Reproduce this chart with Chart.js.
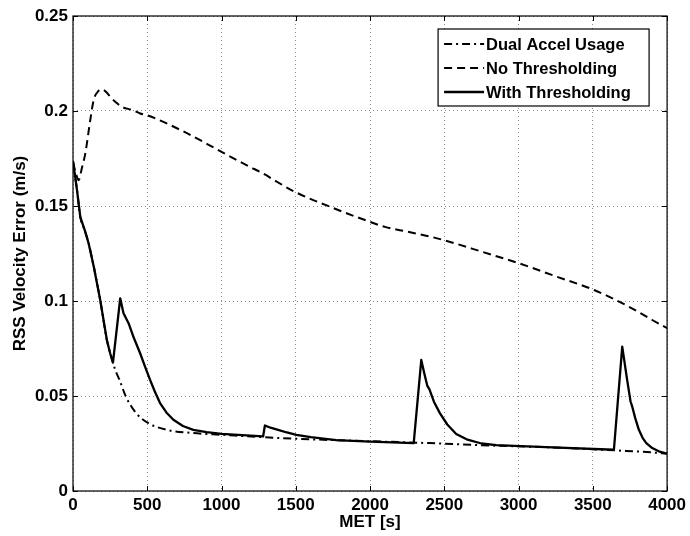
<!DOCTYPE html>
<html>
<head>
<meta charset="utf-8">
<script src="https://cdn.jsdelivr.net/npm/chart.js@4/dist/chart.umd.min.js"></script>
<style>
  html, body { margin: 0; padding: 0; background: #fff; }
  #wrap { width: 690px; height: 536px; }
</style>
</head>
<body>
<div id="wrap"><canvas id="chart" width="690" height="536"></canvas></div>
<script>
// values (MET in seconds, RSS velocity error in m/s)
var dualX = [0, 10, 27, 49, 80, 105, 140, 183, 228, 269, 284, 313, 356, 425, 508, 631, 810, 1000, 1381, 1750, 2000, 2399, 2713, 3200, 3675, 3900, 4000];
var dualY = [0.1736, 0.168, 0.1584, 0.1443, 0.137, 0.1304, 0.118, 0.1006, 0.0795, 0.0676, 0.0638, 0.0585, 0.0497, 0.041, 0.0357, 0.0322, 0.0305, 0.0296, 0.0279, 0.0268, 0.0262, 0.0252, 0.0242, 0.0230, 0.0213, 0.0203, 0.0196];

var noThrX = [0, 20, 38, 60, 83, 116, 139, 172, 195, 230, 251, 290, 329, 400, 452, 497, 750, 1000, 1191, 1258, 1493, 1750, 1952, 2100, 2250, 2400, 2534, 2750, 3004, 3250, 3508, 3743, 3900, 4000];
var noThrY = [0.173, 0.167, 0.1636, 0.170, 0.1777, 0.1951, 0.2057, 0.2106, 0.2113, 0.2095, 0.2074, 0.2045, 0.2022, 0.2005, 0.1987, 0.1978, 0.189, 0.1785, 0.1706, 0.168, 0.1575, 0.149, 0.143, 0.139, 0.1365, 0.134, 0.1312, 0.126, 0.1198, 0.113, 0.1058, 0.097, 0.090, 0.0857];

var withThrX = [0, 10, 27, 49, 80, 105, 140, 183, 228, 250, 269, 318, 340, 374, 410, 452, 485, 519, 550, 586, 630, 676, 740, 810, 900, 1000, 1280, 1292, 1330, 1381, 1440, 1504, 1600, 1773, 2000, 2294, 2345, 2365, 2385, 2400, 2430, 2470, 2520, 2580, 2650, 2750, 2850, 3183, 3642, 3698, 3731, 3754, 3765, 3785, 3810, 3835, 3860, 3900, 3950, 4000];
var withThrY = [0.1736, 0.168, 0.1584, 0.1443, 0.137, 0.1304, 0.118, 0.1006, 0.0795, 0.0725, 0.0676, 0.1014, 0.0936, 0.0883, 0.0805, 0.0725, 0.0655, 0.0585, 0.0525, 0.0463, 0.0412, 0.0375, 0.0342, 0.0322, 0.031, 0.0301, 0.0287, 0.0345, 0.0333, 0.0322, 0.0308, 0.0296, 0.0283, 0.0268, 0.026, 0.0252, 0.069, 0.062, 0.0555, 0.0535, 0.047, 0.041, 0.035, 0.030, 0.0272, 0.025, 0.0241, 0.0231, 0.0217, 0.076, 0.0585, 0.0471, 0.0445, 0.0385, 0.0322, 0.028, 0.0252, 0.0226, 0.0207, 0.0196];

var xTicks = [0, 500, 1000, 1500, 2000, 2500, 3000, 3500, 4000];
var yTicks = [0, 0.05, 0.1, 0.15, 0.2, 0.25];

var FONT = '"Liberation Sans", Arial, Helvetica, sans-serif';

function toPoints(xs, ys) {
    return xs.map(function(x, i) { return { x: x, y: ys[i] }; });
}

var series = [
    { label: 'Dual Accel Usage', data: toPoints(dualX, dualY), dash: [8, 4, 2, 4], width: 2, smooth: true },
    { label: 'No Thresholding', data: toPoints(noThrX, noThrY), dash: [8, 5], width: 2, smooth: true },
    { label: 'With Thresholding', data: toPoints(withThrX, withThrY), dash: [], width: 2.3, smooth: false }
];

// box around the plot + inward tick marks (matlab style)
var framePlugin = {
    id: 'frame',
    afterDatasetsDraw: function(chart) {
        var ctx = chart.ctx;
        var a = chart.chartArea;
        var xs = chart.scales.x, ys = chart.scales.y;
        ctx.save();
        ctx.strokeStyle = '#000';
        ctx.lineWidth = 1;
        ctx.setLineDash([]);
        ctx.beginPath();
        xTicks.forEach(function(v) {
            var px = Math.round(xs.getPixelForValue(v)) + 0.5;
            ctx.moveTo(px, a.bottom); ctx.lineTo(px, a.bottom - 5);
            ctx.moveTo(px, a.top); ctx.lineTo(px, a.top + 5);
        });
        yTicks.forEach(function(v) {
            var py = Math.round(ys.getPixelForValue(v)) + 0.5;
            ctx.moveTo(a.left, py); ctx.lineTo(a.left + 5, py);
            ctx.moveTo(a.right, py); ctx.lineTo(a.right - 5, py);
        });
        ctx.stroke();
        ctx.lineWidth = 1.2;
        ctx.strokeRect(a.left, a.top, a.right - a.left, a.bottom - a.top);
        ctx.restore();
    }
};

var legendPlugin = {
    id: 'boxLegend',
    afterDraw: function(chart) {
        var ctx = chart.ctx;
        var a = chart.chartArea;
        var w = 211, h = 77;
        var x0 = a.right - 18 - w, y0 = a.top + 13;
        ctx.save();
        ctx.fillStyle = '#fff';
        ctx.fillRect(x0, y0, w, h);
        ctx.strokeStyle = '#000';
        ctx.lineWidth = 1.2;
        ctx.strokeRect(x0, y0, w, h);
        ctx.font = 'bold 16.5px ' + FONT;
        ctx.textBaseline = 'middle';
        ctx.fillStyle = '#000';
        series.forEach(function(s, i) {
            var cy = y0 + 15 + i * 24;
            ctx.beginPath();
            ctx.setLineDash(s.dash);
            ctx.lineWidth = s.width;
            ctx.moveTo(x0 + 6, cy);
            ctx.lineTo(x0 + 46, cy);
            ctx.stroke();
            ctx.setLineDash([]);
            ctx.fillText(s.label, x0 + 48, cy + 1);
        });
        ctx.restore();
    }
};

var tickFont = { family: FONT, size: 17, weight: 'bold' };

new Chart(document.getElementById('chart'), {
    type: 'line',
    data: {
        datasets: series.map(function(s) {
            return {
                label: s.label,
                data: s.data,
                borderColor: '#000',
                borderWidth: s.width,
                borderDash: s.dash,
                borderJoinStyle: 'round',
                pointRadius: 0,
                cubicInterpolationMode: s.smooth ? 'monotone' : 'default',
                tension: 0,
                fill: false
            };
        })
    },
    options: {
        responsive: false,
        animation: false,
        layout: { padding: { top: 16, right: 22, left: 0, bottom: 0 } },
        plugins: { legend: { display: false }, tooltip: { enabled: false } },
        scales: {
            x: {
                type: 'linear',
                min: 0, max: 4000,
                afterBuildTicks: function(scale) { scale.ticks = xTicks.map(function(v) { return { value: v }; }); },
                afterFit: function(scale) { scale.height = 45; },
                ticks: {
                    color: '#000', font: tickFont, padding: 4, maxRotation: 0,
                    callback: function(v) { return String(v); }
                },
                grid: { color: '#8a8a8a', lineWidth: 1, drawTicks: false },
                border: { display: false, dash: [1, 3] },
                title: { display: true, text: 'MET [s]', color: '#000', font: tickFont, padding: { top: 0, bottom: 3 } }
            },
            y: {
                type: 'linear',
                min: 0, max: 0.25,
                afterBuildTicks: function(scale) { scale.ticks = yTicks.map(function(v) { return { value: v }; }); },
                afterFit: function(scale) { scale.width = 73; },
                ticks: {
                    color: '#000', font: tickFont, padding: 5,
                    callback: function(v) { return String(Math.round(v * 100) / 100); }
                },
                grid: { color: '#8a8a8a', lineWidth: 1, drawTicks: false },
                border: { display: false, dash: [1, 3] },
                title: { display: true, text: 'RSS Velocity Error (m/s)', color: '#000', font: tickFont, padding: { top: 10, bottom: 0 } }
            }
        }
    },
    plugins: [framePlugin, legendPlugin]
});
</script>
</body>
</html>
